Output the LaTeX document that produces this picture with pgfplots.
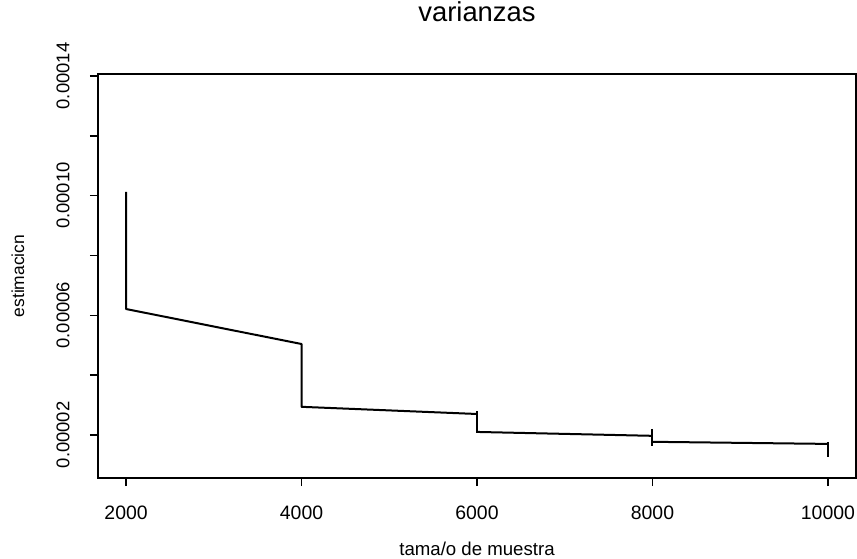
\documentclass[border=0pt]{standalone}
\usepackage{pgfplots}
\pgfplotsset{compat=1.18}
\usepackage{fontspec}
\setmainfont{Liberation Sans}
\begin{document}
\begin{tikzpicture}
\path[use as bounding box] (-98bp,-81bp) rectangle (759bp,478bp);
\begin{axis}[
  at={(0,0)}, anchor=south west,
  scale only axis, width=758bp, height=404bp,
  xmin=1680, xmax=10320, ymin=5.6e-6, ymax=1.4067e-4,
  axis line style={line width=1.8bp},
  tick pos=left, tick align=outside, major tick length=8bp,
  every tick/.style={black, line width=1.5bp},
  xtick={2000,4000,6000,8000,10000},
  xticklabels={2000,4000,6000,8000,10000},
  ytick={2e-5,4e-5,6e-5,8e-5,1e-4,1.2e-4,1.4e-4},
  yticklabels={0.00002,,0.00006,,0.00010,,0.00014},
  scaled y ticks=false, scaled x ticks=false,
  /pgf/number format/assume math mode=true,
  xticklabel style={font=\fontsize{19.5}{22}\selectfont},
  yticklabel style={rotate=90, anchor=south, font=\fontsize{18.5}{21}\selectfont},
  yticklabel shift=17bp,
  xticklabel shift=16bp,
  title={varianzas},
  title style={at={(0.5,1.114)}, anchor=base, font=\fontsize{27.5}{30}\selectfont},
  xlabel={tama/o de muestra},
  xlabel style={at={(0.5,-0.193)}, anchor=base, font=\fontsize{18.7}{21}\selectfont},
  ylabel={estimacicn},
  ylabel style={at={(-0.0976,0.5)}, anchor=base, rotate=0, font=\fontsize{17.5}{20}\selectfont},
]
\addplot[black, line width=2bp, line join=round] coordinates {(2000,1.0126e-4) (2000,6.21e-5) (4000,5.04e-5) (4000,2.94e-5) (6000,2.70e-5)};
\addplot[black, line width=2bp] coordinates {(6000,2.80e-5) (6000,2.07e-5)};
\addplot[black, line width=2bp] coordinates {(6000,2.10e-5) (8000,1.97e-5)};
\addplot[black, line width=2bp] coordinates {(8000,2.20e-5) (8000,1.63e-5)};
\addplot[black, line width=2bp] coordinates {(8000,1.77e-5) (10000,1.70e-5)};
\addplot[black, line width=2bp] coordinates {(10000,1.77e-5) (10000,1.26e-5)};
\end{axis}
\end{tikzpicture}
\end{document}
